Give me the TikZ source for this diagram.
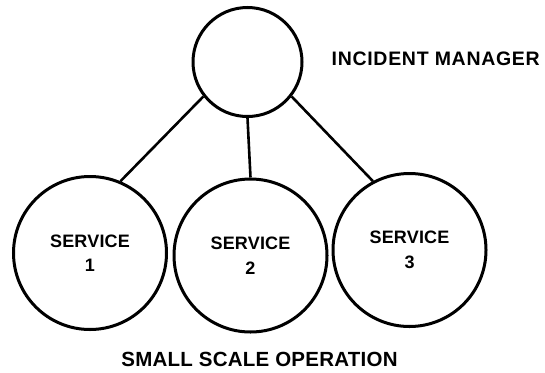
\documentclass[tikz,border=0pt]{standalone}
\usepackage{fontspec}
\setmainfont{Liberation Sans}
\usepackage{tikz}
\usetikzlibrary{positioning}

\begin{document}
\begin{tikzpicture}[x=1pt,y=-1pt,
    svc/.style={circle,draw=black,line width=3pt,minimum size=153pt,inner sep=0pt,
        align=center,font=\bfseries\fontsize{18}{24.5}\selectfont\addfontfeatures{LetterSpace=1}},
    link/.style={line width=2.6pt}]
\useasboundingbox (0,0) rectangle (545,372);

\node[circle,
    draw = black,
    line width = 3pt,
    minimum size = 109pt]
    (im) at (247.5,62) {};

\node[svc] (s1) at (90,253) {SERVICE\\1};
\node[svc] (s2) at (250.5,255.5) {SERVICE\\2};
\node[svc] (s3) at (409.5,250) {SERVICE\\3};

\node[anchor=base west,inner sep=0pt,
    font=\bfseries\fontsize{19.5}{20}\selectfont\addfontfeatures{LetterSpace=3.6}]
    (imlabel) at (331.5,65) {INCIDENT MANAGER};
\node[anchor=base,inner sep=0pt,
    font=\bfseries\fontsize{20.5}{22}\selectfont\addfontfeatures{LetterSpace=1.2}]
    (caption) at (259.5,366) {SMALL SCALE OPERATION};

\draw[link] (im.218) -- (s1.67);
\draw[link] (im.south) -- (s2.north);
\draw[link] (im.322) -- (s3.118);

\end{tikzpicture}
\end{document}
